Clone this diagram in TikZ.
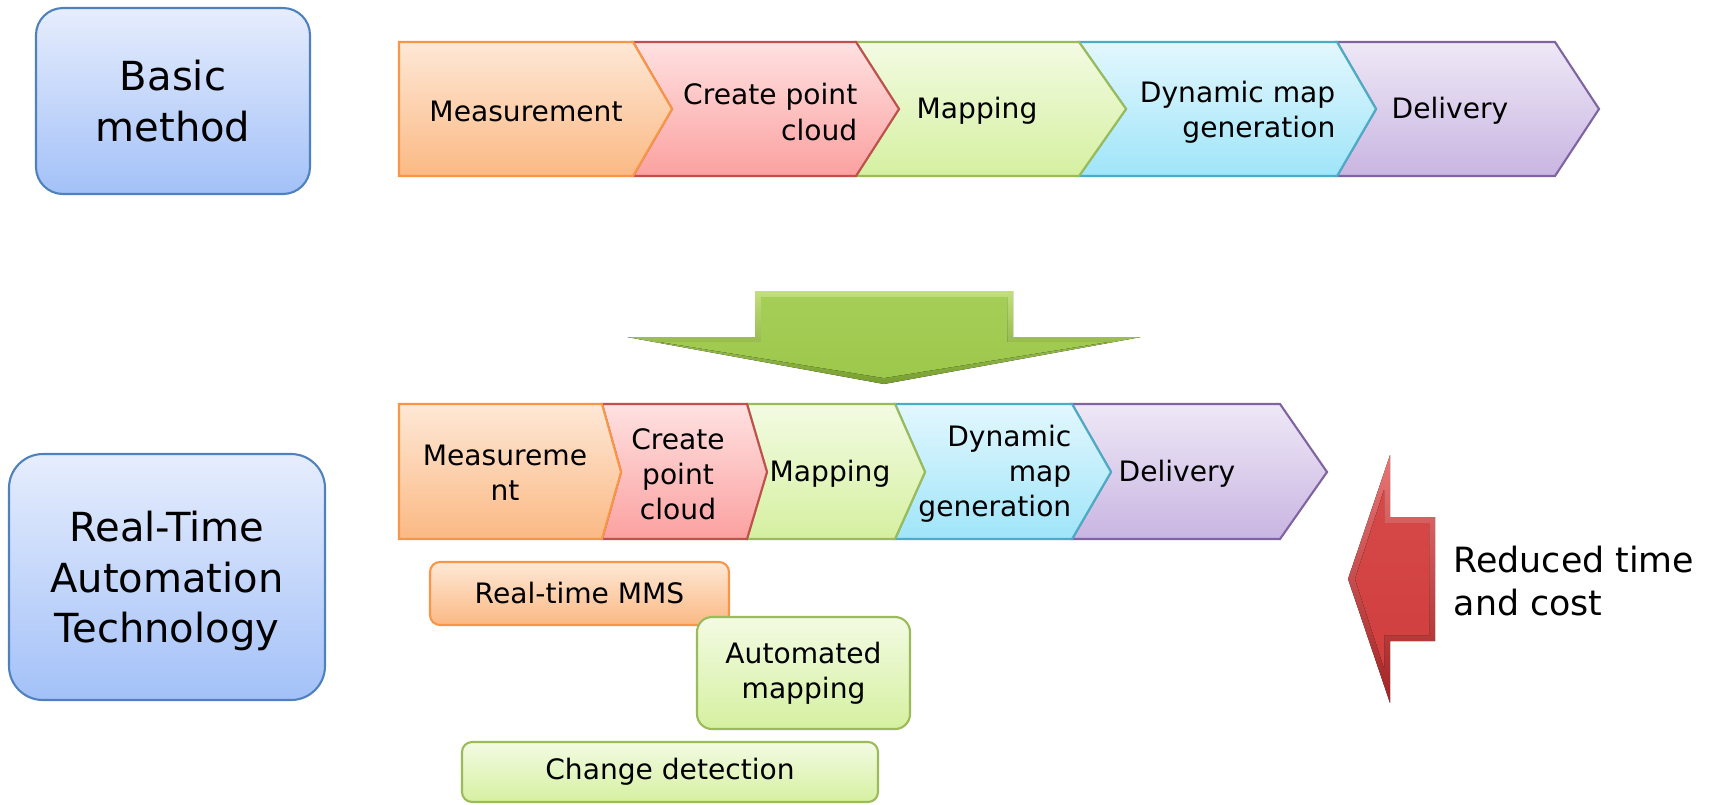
\documentclass[tikz,border=0pt]{standalone}
\usepackage{fontspec}
\setmainfont{DejaVu Sans}

% office-style fills: line colour, light top, darker bottom
\definecolor{orgline}{HTML}{F79646}
\definecolor{orgtop}{HTML}{FEE8D6}
\definecolor{orgbot}{HTML}{FBB984}
\definecolor{redline}{HTML}{C0504D}
\definecolor{redtop}{HTML}{FFE1E1}
\definecolor{redbot}{HTML}{FBA1A0}
\definecolor{grnline}{HTML}{9BBB59}
\definecolor{grntop}{HTML}{F3FBE3}
\definecolor{grnbot}{HTML}{D5F0A0}
\definecolor{cyanline}{HTML}{4BACC6}
\definecolor{cyantop}{HTML}{E3F7FE}
\definecolor{cyanbot}{HTML}{9FE5F9}
\definecolor{purpline}{HTML}{8064A2}
\definecolor{purptop}{HTML}{EEE8F6}
\definecolor{purpbot}{HTML}{C9B5E2}
\definecolor{blueline}{HTML}{4F81BD}
\definecolor{bluetop}{HTML}{E6EDFD}
\definecolor{bluebot}{HTML}{A3C1F8}
\definecolor{arrgreen}{HTML}{9CC84B}
\definecolor{arrgreenlt}{HTML}{C2DF7C}
\definecolor{arrgreendk}{HTML}{769E2E}
\definecolor{arrred}{HTML}{D13E3E}
\definecolor{arrredlt}{HTML}{E97575}
\definecolor{arrreddk}{HTML}{A22424}

\begin{document}
\begin{tikzpicture}[
  x=0.1mm, y=-0.1mm,
  chev/.style={line width=0.6pt, line join=miter},
  chevorange/.style={chev, draw=orgline, top color=orgtop, bottom color=orgbot},
  chevred/.style={chev, draw=redline, top color=redtop, bottom color=redbot},
  chevgreen/.style={chev, draw=grnline, top color=grntop, bottom color=grnbot},
  chevcyan/.style={chev, draw=cyanline, top color=cyantop, bottom color=cyanbot},
  chevpurple/.style={chev, draw=purpline, top color=purptop, bottom color=purpbot},
  lbl/.style={inner sep=0pt, font=\fontsize{8pt}{10pt}\selectfont},
  bigbox/.style={draw=blueline, line width=0.6pt, top color=bluetop, bottom color=bluebot, align=center, font=\fontsize{11.4pt}{14.4pt}\selectfont},
  tag/.style={line width=0.6pt, align=center, inner sep=0pt, font=\fontsize{8pt}{10pt}\selectfont},
  tagorange/.style={tag, draw=orgline, top color=orgtop, bottom color=orgbot},
  taggreen/.style={tag, draw=grnline, top color=grntop, bottom color=grnbot}
]
\useasboundingbox (0,0) rectangle (1722,804);

% row captions
\node[bigbox, minimum width=27.4mm, minimum height=18.6mm, rounded corners=2.7mm] (basic) at (173,101) {Basic\\method};
\node[bigbox, minimum width=31.6mm, minimum height=24.6mm, rounded corners=3.4mm, text depth=0pt] (rtat) at (167,577) {Real-Time\\Automation\\Technology};

% basic flow, drawn right to left so every tip covers the next notch
\draw[chevpurple] (1337,42) -- (1555,42) -- (1599,109) -- (1555,176) -- (1337,176) -- (1376,109) -- cycle;
\draw[chevcyan] (1079,42) -- (1337,42) -- (1376,109) -- (1337,176) -- (1079,176) -- (1126,109) -- cycle;
\draw[chevgreen] (856,42) -- (1079,42) -- (1126,109) -- (1079,176) -- (856,176) -- (899,109) -- cycle;
\draw[chevred] (633,42) -- (856,42) -- (899,109) -- (856,176) -- (633,176) -- (672,109) -- cycle;
\draw[chevorange] (399,42) -- (633,42) -- (672,109) -- (633,176) -- (399,176) -- cycle;

\node[lbl] (bmeas) at (526,111) {Measurement};
\node[lbl, anchor=east, align=right] (bcloud) at (858,112) {Create point\\cloud};
\node[lbl] (bmap) at (977,111) {Mapping};
\node[lbl, anchor=east, align=right] (bdyn) at (1336,112) {Dynamic map\\generation};
\node[lbl] (bdel) at (1450,111) {Delivery};

% big down arrow between the two flows
\fill[top color=arrgreenlt, bottom color=arrgreendk] (755,291) -- (1013,291) -- (1013,337) -- (1141,337) -- (884,384) -- (627,337) -- (755,337) -- cycle;
\fill[top color=arrgreen!75!arrgreenlt, bottom color=arrgreen] (761,297) -- (1007,297) -- (1007,342) -- (1108,342) -- (884,378) -- (660,342) -- (761,342) -- cycle;

% real-time flow
\draw[chevpurple] (1072,404) -- (1280,404) -- (1327,472) -- (1280,539) -- (1072,539) -- (1111,472) -- cycle;
\draw[chevcyan] (895,404) -- (1072,404) -- (1111,472) -- (1072,539) -- (895,539) -- (925,472) -- cycle;
\draw[chevgreen] (747,404) -- (895,404) -- (925,472) -- (895,539) -- (747,539) -- (767,472) -- cycle;
\draw[chevred] (602,404) -- (747,404) -- (767,472) -- (747,539) -- (602,539) -- (621,472) -- cycle;
\draw[chevorange] (399,404) -- (602,404) -- (621,472) -- (602,539) -- (399,539) -- cycle;

\node[lbl, align=center] (rmeas) at (505,473) {Measureme\\nt};
\node[lbl, align=center] (rcloud) at (678,474) {Create\\point\\cloud};
\node[lbl] (rmap) at (830,474) {Mapping};
\node[lbl, anchor=east, align=right] (rdyn) at (1072,474) {Dynamic\\map\\generation};
\node[lbl] (rdel) at (1177,474) {Delivery};

% technologies under the flow
\node[tagorange, minimum width=29.9mm, minimum height=6.3mm, rounded corners=1mm] (mms) at (579.5,593.5) {Real-time MMS};
\node[taggreen, minimum width=21.3mm, minimum height=11.2mm, rounded corners=1.5mm] (automap) at (803.5,673) {Automated\\mapping};
\node[taggreen, minimum width=41.6mm, minimum height=6.0mm, rounded corners=1mm] (change) at (670,772) {Change detection};

% red arrow pointing back at the new flow
\fill[top color=arrredlt, bottom color=arrreddk] (1435,517) -- (1435,641) -- (1390,641) -- (1390,703) -- (1348,579) -- (1390,455) -- (1390,517) -- cycle;
\fill[top color=arrred!80!arrredlt, bottom color=arrred] (1429,523) -- (1429,635) -- (1384,635) -- (1384,668) -- (1355,579) -- (1384,490) -- (1384,523) -- cycle;

\node[anchor=west, align=left, inner sep=0pt, font=\fontsize{9.9pt}{12.2pt}\selectfont] (gain) at (1453,581) {Reduced time\\and cost};
\end{tikzpicture}
\end{document}
